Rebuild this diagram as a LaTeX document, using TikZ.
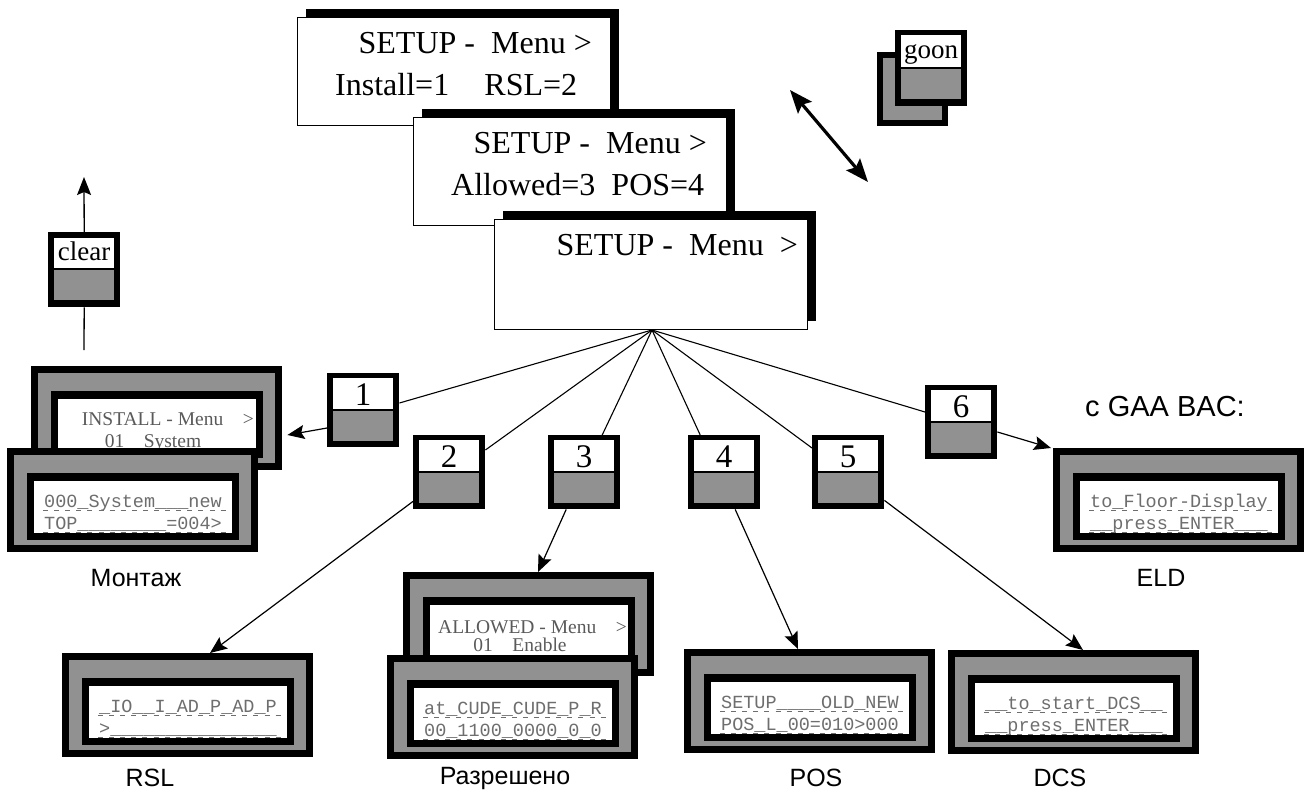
\documentclass[tikz,border=0pt]{standalone}
\usepackage{fontspec}
\setmainfont{Liberation Serif}
\newfontfamily\arialf{Liberation Sans}
\newfontfamily\monof{Liberation Mono}
\usetikzlibrary{calc,arrows.meta,shadows}
\definecolor{keygray}{RGB}{145,145,145}
\definecolor{lcdink}{RGB}{90,90,90}
\definecolor{monoink}{RGB}{110,110,110}

\tikzset{
  menubox/.style={draw=black, line width=1.2pt, fill=white, minimum width=313pt,
    minimum height=108pt, inner sep=0pt,
    general shadow={fill=black, shadow xshift=8pt, shadow yshift=9pt}},
  menutext/.style={inner sep=0pt, font=\fontsize{32}{34}\selectfont},
  lcdouter/.style={fill=black, minimum width=251pt, minimum height=104pt, inner sep=0pt},
  keyouter/.style={fill=black, minimum width=72pt, minimum height=74pt, inner sep=0pt},
  keylabel/.style={inner sep=0pt, anchor=base, font=\fontsize{33}{35}\selectfont},
  keyword/.style={inner sep=0pt, anchor=base, font=\fontsize{27}{29}\selectfont},
  monotext/.style={inner sep=0pt, anchor=base, text=monoink, font=\monof\fontsize{18.5}{20}\selectfont},
  dispserif/.style={inner sep=0pt, text=lcdink, font=\fontsize{19.5}{21}\selectfont},
  lcddash/.style={draw=monoink, line width=0.8pt, dash pattern=on 5pt off 6.1pt},
  lbl/.style={inner sep=0pt, font=\arialf\fontsize{25}{27}\selectfont},
  hubline/.style={line width=1.1pt},
  arr/.style={line width=1.2pt, -{Stealth[length=17pt,width=14pt,inset=3pt]}},
  dblarr/.style={line width=3.2pt, {Stealth[length=23pt,width=18pt,inset=4pt]}-{Stealth[length=23pt,width=18pt,inset=4pt]}},
}

\newcommand\lcdpanel[3]{%
  \node[lcdouter, anchor=north west] (#1) at (#2,#3) {};
  \fill[keygray] ($(#1.north west)+(7,7)$) rectangle ($(#1.south east)+(-7,-7)$);
  \fill[black] ($(#1.north west)+(20,25)$) rectangle ($(#1.south east)+(-19,-12)$);
  \fill[white] ($(#1.north west)+(27,33)$) rectangle ($(#1.south east)+(-26,-19)$);
}
\newcommand\lcdmono[3]{%
  \begin{scope}
    \clip ($(#1.north west)+(27,33)$) rectangle ($(#1.south east)+(-26,-19)$);
    \node[monotext] at ($(#1.north west)+(126,59)$) {#2};
    \node[monotext] at ($(#1.north west)+(126,81)$) {#3};
    \draw[lcddash] ($(#1.north west)+(36,62)$) -- ($(#1.north west)+(220,62)$);
    \draw[lcddash] ($(#1.north west)+(36,84)$) -- ($(#1.north west)+(220,84)$);
  \end{scope}}
\newcommand\keybox[4]{%
  \node[keyouter, anchor=north west] (#1) at (#2,#3) {};
  \fill[white] ($(#1.north west)+(6,5)$) rectangle ($(#1.north east)+(-6,36)$);
  \fill[keygray] ($(#1.north west)+(6,38)$) rectangle ($(#1.south east)+(-6,-6)$);
  \node[keylabel] at ($(#1.north)+(0,32)$) {#4};
}

\begin{document}
\begin{tikzpicture}[x=1pt, y=-1pt]
\useasboundingbox (0,0) rectangle (1305,798);
\fill[white] (0,0) rectangle (1305,798);

% ---------- SETUP menus ----------
\node[menubox, anchor=north west] (m1) at (297,17) {};
\node[menutext, anchor=base east] (m1a) at (592,53) {SETUP -\ \ Menu >};
\node[menutext, anchor=base west] (m1b) at (335,95) {Install=1\hspace{1.1em}RSL=2};

\node[menubox, anchor=north west] (m2) at (413,117) {};
\node[menutext, anchor=base east] (m2a) at (707,153) {SETUP -\ \ Menu >};
\node[menutext, anchor=base west] (m2b) at (451,195) {Allowed=3\hspace{0.5em}POS=4};

\node[menubox, anchor=north west, minimum height=110pt] (m3) at (494,219) {};
\node[menutext, anchor=base east] (m3a) at (798,255) {SETUP -\ \ Menu\ \ >};

\coordinate (hub) at (652,330);

% ---------- goon key and double arrow ----------
\node[keyouter, anchor=north west, minimum width=71pt] (goonback) at (877,52) {};
\fill[keygray] ($(goonback.north west)+(6,6)$) rectangle ($(goonback.south east)+(-6,-6)$);
\node[keyouter, anchor=north west, minimum height=76pt] (goon) at (895,30) {};
\fill[white] ($(goon.north west)+(6,5)$) rectangle ($(goon.north east)+(-6,37)$);
\fill[keygray] ($(goon.north west)+(6,39)$) rectangle ($(goon.south east)+(-6,-7)$);
\node[keyword] at ($(goon.north)+(0,28)$) {goon};
\coordinate (da1) at (790,90);
\coordinate (da2) at (868,182);
\draw[dblarr] (da1) -- (da2);

% ---------- clear key ----------
\coordinate (cleartail) at (84,350);
\coordinate (clearhead) at (84,177);
\node[keyouter, anchor=north west, minimum height=75pt] (clear) at (48,232) {};
\fill[white] ($(clear.north west)+(6,6)$) rectangle ($(clear.north east)+(-6,36)$);
\fill[keygray] ($(clear.north west)+(6,38)$) rectangle ($(clear.south east)+(-6,-7)$);
\node[keyword] at ($(clear.north)+(0,28)$) {clear};
\draw[line width=1.3pt] (cleartail) -- (clear.south);
\draw[line width=1.3pt, -{Stealth[length=18pt,width=14pt,inset=3pt]}] (clear.north) -- (clearhead);

% ---------- LCD panels ----------
\lcdpanel{insb}{31}{366}
\begin{scope}
  \clip ($(insb.north west)+(27,33)$) rectangle ($(insb.south east)+(-26,-19)$);
  \node[dispserif, anchor=base east] at ($(insb.north west)+(223,59)$) {INSTALL - Menu\hspace{1em}>};
  \node[dispserif, anchor=base] at ($(insb.north west)+(122,81)$) {01\hspace{1em}System};
\end{scope}
\lcdpanel{insf}{7}{448}
\lcdmono{insf}{000\_System\_\_\_new}{TOP\_\_\_\_\_\_\_\_=004>}

\lcdpanel{rsl}{62}{653}
\lcdmono{rsl}{\_IO\_\_I\_AD\_P\_AD\_P}{>\_\_\_\_\_\_\_\_\_\_\_\_\_\_\_}

\lcdpanel{alb}{403}{572}
\begin{scope}
  \clip ($(alb.north west)+(27,33)$) rectangle ($(alb.south east)+(-26,-19)$);
  \node[dispserif, anchor=base east] at ($(alb.north west)+(224,61)$) {ALLOWED - Menu\hspace{1em}>};
  \node[dispserif, anchor=base] at ($(alb.north west)+(117,79)$) {01\hspace{1em}Enable};
\end{scope}
\lcdpanel{alf}{387}{655}
\lcdmono{alf}{at\_CUDE\_CUDE\_P\_R}{00\_1100\_0000\_0\_0}

\lcdpanel{pos}{684}{649}
\lcdmono{pos}{SETUP\_\_\_\_OLD\_NEW}{POS\_L\_00=010>000}

\lcdpanel{dcs}{948}{650}
\lcdmono{dcs}{\_\_to\_start\_DCS\_\_}{\_\_press\_ENTER\_\_\_}

\lcdpanel{eld}{1053}{448}
\lcdmono{eld}{to\_Floor-Display}{\_\_press\_ENTER\_\_\_}

% ---------- number keys ----------
\keybox{k1}{327}{373}{1}
\keybox{k2}{413}{435}{2}
\keybox{k3}{548}{435}{3}
\keybox{k4}{688}{435}{4}
\keybox{k5}{812}{435}{5}
\keybox{k6}{925}{385}{6}

% ---------- connectors ----------
\draw[hubline] (hub) -- ($(k1.north east)+(0,30)$);
\draw[hubline] (hub) -- ($(k2.north east)+(0,15)$);
\draw[hubline] (hub) -- ($(k3.north)+(18,0)$);
\draw[hubline] (hub) -- ($(k4.north)+(-24,0)$);
\draw[hubline] (hub) -- ($(k5.north west)+(0,13)$);
\draw[hubline] (hub) -- ($(k6.north west)+(0,27)$);

\draw[arr] ($(k1.north west)+(0,55)$) -- ($(insb.north east)+(5,69)$);
\draw[arr] ($(k2.south west)+(0,-8)$) -- ($(rsl.north west)+(148,0)$);
\draw[arr] ($(k3.south)+(-18,0)$) -- ($(alb.north west)+(135,0)$);
\draw[arr] ($(k4.south)+(11,0)$) -- ($(pos.north west)+(114,0)$);
\draw[arr] ($(k5.south east)+(0,-9)$) -- ($(dcs.north west)+(135,0)$);
\draw[arr] ($(k6.north east)+(0,47)$) -- ($(eld.north west)+(-2,0)$);

% ---------- labels ----------
\node[lbl] (lmon) at (136,578) {Монтаж};
\node[lbl] (leld) at (1161,578) {ELD};
\node[lbl, font=\arialf\fontsize{29}{31}\selectfont] (lgaa) at (1165,407) {c GAA BAC:};
\node[lbl] (lrsl) at (150,778) {RSL};
\node[lbl] (lraz) at (505,778) {Разрешено};
\node[lbl] (lpos) at (816,778) {POS};
\node[lbl] (ldcs) at (1060,778) {DCS};
\end{tikzpicture}
\end{document}
